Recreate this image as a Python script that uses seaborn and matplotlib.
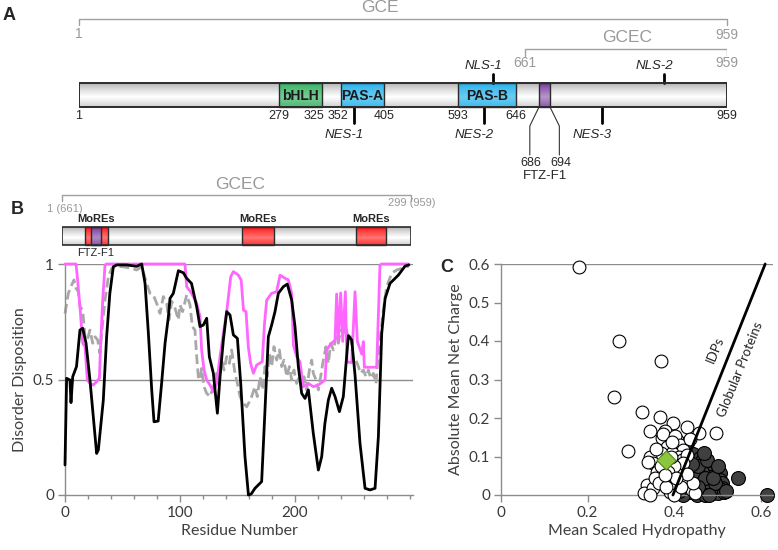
import numpy as np
import pandas as pd
import matplotlib.pyplot as plt
import seaborn as sns
from matplotlib.patches import Rectangle
from matplotlib.colors import to_rgb

# ---------------- panel A: GCE domain map (residue numbers)
gce_len = 959
gcec_start = 661
domains = [('bHLH', 279, 325, '#2cae5a'),
           ('PAS-A', 352, 405, '#1aaeea'),
           ('PAS-B', 593, 646, '#1aaeea')]
ftz_a = (686, 694)
nls_sites = [('NLS-1', 625), ('NLS-2', 865)]
nes_sites = [('NES-1', 368), ('NES-2', 617), ('NES-3', 772)]
edge_labels = [1, 279, 325, 352, 405, 593, 646, 959]

# the map is not drawn to scale; knots of the drawing's own scale
scale_res = [1, 279, 325, 352, 405, 593, 646, 686, 694, 959]
scale_pos = [0, 200, 243, 262, 305, 379, 437, 460, 471, 648]

# ---------------- panel B: GCEC (residues 1-299 = 661-959)
gcec_len = 299
mores = [(21, 40), (155, 182), (252, 278)]
ftz_b = (26, 34)

black_x = [0, 1.4, 4.3, 5.2, 6.7, 10, 13, 15.4, 18.3, 21.7, 24.6, 27.5, 29, 33.3, 36.2, 39, 42, 45,
           53.6, 62.3, 66.7, 69.6, 72.5, 75.4, 77.4, 81, 84, 87, 89.9, 91.3, 94.2, 98.6, 102.9, 105.8,
           110, 114.5, 117.4, 120.3, 123.2, 125.5, 129, 132.5, 134.8, 137.7, 140.6, 143.5, 146.4,
           149.9, 152.8, 156.5, 159.5, 162, 165.2, 171, 173.9, 176.8, 179.7, 182.6, 185.5, 189.9,
           193.3, 197.1, 200, 202.9, 205.8, 208.7, 211.6, 215.9, 220.3, 223.2, 226, 229, 231.9,
           234.8, 238.6, 242, 246.4, 249.3, 252.2, 256.5, 260.9, 265.2, 269.6, 272.5, 275.4, 278.3,
           282.6, 289.9, 295.7, 299]
black_y = [0.13, 0.505, 0.498, 0.40, 0.512, 0.556, 0.714, 0.722, 0.657, 0.498, 0.339, 0.18, 0.195,
           0.41, 0.685, 0.873, 0.988, 0.996, 0.996, 0.99, 1.0, 0.916, 0.70, 0.455, 0.317, 0.32,
           0.483, 0.657, 0.772, 0.851, 0.873, 0.971, 0.962, 0.938, 0.916, 0.815, 0.729, 0.736,
           0.765, 0.599, 0.527, 0.354, 0.512, 0.671, 0.794, 0.779, 0.693, 0.678, 0.483, 0.166,
           0.0, 0.005, 0.029, 0.058, 0.368, 0.685, 0.736, 0.794, 0.873, 0.902, 0.913, 0.844,
           0.729, 0.556, 0.440, 0.418, 0.455, 0.267, 0.108, 0.166, 0.31, 0.411, 0.462, 0.426,
           0.361, 0.426, 0.69, 0.671, 0.519, 0.224, 0.029, 0.022, 0.029, 0.253, 0.70, 0.85,
           0.916, 0.952, 0.991, 0.996]

pink_x = [0, 9.6, 10.7, 13, 15.4, 17.4, 19.4, 21.7, 24.6, 27.5, 29.9, 31, 32.8, 34.8, 36.2, 104.3,
          105.8, 110.1, 114.5, 117.4, 118.8, 120.9, 123.2, 126.1, 129, 131.9, 134.8, 137.7, 140.6,
          144.1, 146.4, 150.7, 153.2, 155.2, 157.4, 159.4, 161.4, 163.8, 166.7, 171.5, 173.5,
          175.4, 179.7, 184, 187, 191.3, 194.2, 197.1, 198.6, 201.4, 204.3, 207.2, 211.6, 215.9,
          220.3, 226.1, 227.5, 230.4, 234.8, 236.2, 237.7, 239.7, 241.5, 243.8, 245.2, 249.3,
          252.2, 254.2, 258, 259.4, 260.3, 271, 273.9, 275.4, 299]
pink_y = [1.0, 1.0, 0.945, 0.815, 0.657, 0.642, 0.498, 0.483, 0.476, 0.491, 0.505, 0.657, 0.844,
          0.996, 1.0, 1.0, 0.902, 0.873, 0.830, 0.772, 0.628, 0.541, 0.498, 0.476, 0.447, 0.483,
          0.599, 0.700, 0.794, 0.945, 0.967, 0.952, 0.93, 0.80, 0.794, 0.642, 0.570, 0.527,
          0.563, 0.577, 0.743, 0.844, 0.873, 0.880, 0.952, 0.938, 0.931, 0.873, 0.649, 0.599,
          0.577, 0.469, 0.483, 0.469, 0.476, 0.498, 0.628, 0.649, 0.671, 0.87, 0.67, 0.875,
          0.665, 0.88, 0.576, 0.573, 0.88, 0.665, 0.61, 0.664, 0.553, 0.553, 0.996, 1.0, 1.0]

gray_x = [0, 2.9, 5.8, 7.8, 9.6, 11.6, 13, 15.4, 17.4, 19.4, 21.7, 24.1, 26.1, 28.4, 30.4, 31.9,
          34.8, 37.7, 40.6, 43.5, 50.7, 58, 62.3, 66.7, 71, 73.9, 76.8, 79.7, 82.6, 85.5, 88.4,
          90.4, 92.8, 95.7, 98.6, 100, 102.3, 105.8, 108.7, 110.7, 113, 114.5, 115.9, 117.4,
          118.8, 120.9, 123.2, 126.1, 129, 131.9, 134.2, 136.2, 138.3, 140.6, 142.9, 144.9,
          147.8, 149.9, 152.2, 155.1, 158, 160.3, 162.3, 165.2, 167.2, 169.6, 171.9, 173.9,
          175.9, 177.7, 179.7, 181.7, 184, 186.4, 188.4, 190.4, 192.8, 195.1, 197.1, 199.1,
          201.4, 203.8, 205.8, 207.8, 210.1, 212.5, 214.5, 215.9, 218.3, 220.3, 222.3, 224.6,
          226.9, 229, 231, 233.3, 235.7, 237.7, 239.7, 242, 244.3, 246.4, 248.4, 250.7, 253,
          255.1, 257.1, 259.4, 261.7, 263.8, 265.8, 268.1, 270.4, 272.5, 274.5, 276.8, 279.7,
          284.1, 288.4, 292.8, 299]
gray_y = [0.786, 0.873, 0.909, 0.931, 0.895, 0.880, 0.815, 0.801, 0.685, 0.671, 0.714, 0.657,
          0.685, 0.671, 0.613, 0.70, 0.844, 0.945, 0.981, 0.99, 0.988, 0.981, 0.974, 0.988,
          0.916, 0.873, 0.866, 0.830, 0.786, 0.859, 0.830, 0.758, 0.838, 0.808, 0.758, 0.823,
          0.794, 0.866, 0.823, 0.729, 0.714, 0.599, 0.512, 0.498, 0.548, 0.469, 0.440, 0.426,
          0.469, 0.527, 0.483, 0.584, 0.541, 0.599, 0.570, 0.628, 0.527, 0.483, 0.426, 0.397,
          0.382, 0.404, 0.426, 0.469, 0.426, 0.512, 0.455, 0.556, 0.512, 0.613, 0.556, 0.642,
          0.584, 0.628, 0.556, 0.584, 0.512, 0.556, 0.498, 0.541, 0.483, 0.512, 0.469, 0.512,
          0.455, 0.541, 0.584, 0.527, 0.498, 0.455, 0.512, 0.584, 0.642, 0.570, 0.657, 0.628,
          0.685, 0.657, 0.714, 0.70, 0.729, 0.671, 0.685, 0.584, 0.584, 0.556, 0.527, 0.541,
          0.512, 0.541, 0.505, 0.527, 0.483, 0.613, 0.70, 0.801, 0.902, 0.960, 0.974, 0.981,
          0.991]

# ---------------- panel C: charge-hydropathy plot
idp_h = [0.181, 0.272, 0.369, 0.260, 0.325, 0.366, 0.294, 0.343, 0.398, 0.429, 0.456, 0.496,
         0.379, 0.371, 0.406, 0.387, 0.375, 0.402, 0.383, 0.413, 0.420, 0.395, 0.410, 0.370,
         0.360, 0.344, 0.352, 0.340, 0.361, 0.336, 0.330, 0.352, 0.344, 0.375, 0.390, 0.394,
         0.400, 0.410, 0.425, 0.440, 0.417, 0.429, 0.448, 0.444, 0.421, 0.400, 0.385, 0.370,
         0.355, 0.365, 0.380, 0.415, 0.430, 0.405, 0.395, 0.436, 0.392, 0.357, 0.378]
idp_r = [0.591, 0.401, 0.349, 0.255, 0.215, 0.203, 0.113, 0.167, 0.186, 0.177, 0.162, 0.162,
         0.165, 0.147, 0.143, 0.126, 0.158, 0.152, 0.125, 0.130, 0.118, 0.110, 0.100, 0.110,
         0.095, 0.100, 0.082, 0.087, 0.061, 0.026, 0.005, 0.017, 0.000, 0.039, 0.009, 0.017,
         0.000, 0.065, 0.039, 0.013, 0.091, 0.104, 0.004, 0.030, 0.082, 0.075, 0.060, 0.075,
         0.045, 0.030, 0.020, 0.020, 0.055, 0.045, 0.138, 0.145, 0.098, 0.120, 0.052]

glob_h = [0.429, 0.444, 0.460, 0.463, 0.479, 0.498, 0.479, 0.506, 0.483, 0.506, 0.510, 0.510,
          0.506, 0.548, 0.614, 0.471, 0.460, 0.487, 0.490, 0.452, 0.437, 0.421, 0.444, 0.460,
          0.475, 0.463, 0.444, 0.429, 0.413, 0.470, 0.500, 0.515, 0.495, 0.455, 0.470, 0.430,
          0.410, 0.475, 0.490, 0.520, 0.455, 0.480, 0.440, 0.420, 0.468, 0.500]
glob_r = [0.134, 0.106, 0.095, 0.089, 0.074, 0.061, 0.058, 0.058, 0.048, 0.039, 0.030, 0.017,
          0.015, 0.045, 0.000, 0.030, 0.013, 0.013, 0.004, 0.000, 0.009, 0.000, 0.039, 0.039,
          0.022, 0.061, 0.061, 0.065, 0.061, 0.000, 0.005, 0.008, 0.030, 0.075, 0.045, 0.025,
          0.010, 0.090, 0.045, 0.010, 0.020, 0.000, 0.080, 0.040, 0.110, 0.075]

gcec_hr = (0.381, 0.091)
boundary_h = [0.397, 0.610]
boundary_r = [0.0, 0.6]

# ---------------- style
sns.set_style('white')
plt.rcParams['font.family'] = ['Liberation Sans', 'DejaVu Sans']
W, H = 778, 550
fig = plt.figure(figsize=(W / 100, H / 100), dpi=100)


def box(px0, py0, px1, py1):
    # pixel box -> figure fraction rect
    return [px0 / W, 1 - py1 / H, (px1 - px0) / W, (py1 - py0) / H]


def grad_bar(ax, x0, x1, y0, y1, color, light, lw=1.0):
    base = np.array(to_rgb(color))
    n = int(round(y1 - y0))
    for k in range(n):
        t = (k + 0.5) / n
        f = max(0.0, 1 - abs(t - 0.58) / 0.58) ** 0.7
        c = base + (1 - base) * light * f
        ax.add_patch(Rectangle((x0, y0 + k * (y1 - y0) / n), x1 - x0, (y1 - y0) / n,
                               fc=c, lw=0, antialiased=False))
    ax.add_patch(Rectangle((x0, y0), x1 - x0, y1 - y0, fill=False, ec='#2b2b2b', lw=lw, zorder=3))


light_gray = '#999999'

# ================= panel A
ax_a = fig.add_axes(box(79, 0, 727, 185))
ax_a.set_xscale('function', functions=(lambda r: np.interp(r, scale_res, scale_pos),
                                       lambda p: np.interp(p, scale_pos, scale_res)))
ax_a.set_xlim(1, gce_len)
ax_a.set_ylim(185, 0)
ax_a.axis('off')

# brackets
ax_a.plot([1, 1, gce_len, gce_len], [25, 19, 19, 25], color='#a0a0a0', lw=1, clip_on=False)
ax_a.text(400, 8, 'GCE', ha='center', va='center', color=light_gray, fontsize=12.5)
ax_a.text(1, 34, '1', ha='center', va='center', color=light_gray, fontsize=10)
ax_a.text(gce_len, 35, str(gce_len), ha='center', va='center', color=light_gray, fontsize=10)
ax_a.plot([gcec_start, gcec_start, gce_len, gce_len], [56, 49, 49, 56], color='#a0a0a0', lw=1)
ax_a.text(809, 37, 'GCEC', ha='center', va='center', color=light_gray, fontsize=12.5)
ax_a.text(gcec_start, 63, str(gcec_start), ha='center', va='center', color=light_gray, fontsize=10)
ax_a.text(gce_len, 63, str(gce_len), ha='center', va='center', color=light_gray, fontsize=10)

grad_bar(ax_a, 1, gce_len, 83, 107, '#a9a9a9', 1.0, lw=1.4)
for name, s, e, col in domains:
    grad_bar(ax_a, s, e, 83, 107, col, 0.35)
    ax_a.text((s + e) / 2, 95.5, name, ha='center', va='center', fontsize=10,
              fontweight='bold', color='#1a1a1a', zorder=4)
grad_bar(ax_a, ftz_a[0], ftz_a[1], 83, 107, '#6a2a94', 0.5)

for r in edge_labels:
    if r == 325:
        ax_a.annotate(str(r), (r, 116), xytext=(2, 0), textcoords='offset points',
                      ha='right', va='center', fontsize=9)
    elif r == 352:
        ax_a.annotate(str(r), (r, 116), xytext=(-2, 0), textcoords='offset points',
                      ha='center', va='center', fontsize=9)
    else:
        ax_a.text(r, 116, str(r), ha='center', va='center', fontsize=9)

for name, r in nls_sites:
    ax_a.plot([r, r], [74, 83], color='black', lw=2)
    ax_a.annotate(name, (r, 66), xytext=(-7, 0), textcoords='offset points',
                  ha='center', va='center', fontsize=9.5, style='italic')
for name, r in nes_sites:
    ax_a.plot([r, r], [107, 123], color='black', lw=2)
    ax_a.annotate(name, (r, 135), xytext=(-7, 0), textcoords='offset points',
                  ha='center', va='center', fontsize=9.5, style='italic')

# FTZ-F1 call-out
ax_a.plot([ftz_a[0], ftz_a[0] - 16, ftz_a[0] - 16], [107, 126, 155], color='#333333', lw=0.8)
ax_a.plot([ftz_a[1], ftz_a[1] + 14, ftz_a[1] + 14], [107, 126, 155], color='#333333', lw=0.8)
ax_a.text(ftz_a[0] - 15, 163, str(ftz_a[0]), ha='center', va='center', fontsize=9)
ax_a.text(ftz_a[1] + 16, 163, str(ftz_a[1]), ha='center', va='center', fontsize=9)
ax_a.text(690, 176, 'FTZ-F1', ha='center', va='center', fontsize=9.5)

# ================= panel B schematic
ax_bs = fig.add_axes(box(62, 175, 411, 262))
ax_bs.set_xlim(1, gcec_len)
ax_bs.set_ylim(262, 175)
ax_bs.axis('off')
ax_bs.plot([1, 1, gcec_len, gcec_len], [201, 195, 195, 201], color='#a0a0a0', lw=1, clip_on=False)
ax_bs.text(153, 185, 'GCEC', ha='center', va='center', color=light_gray, fontsize=12.5)
ax_bs.text(3, 209, '1 (661)', ha='center', va='center', color=light_gray, fontsize=8)
ax_bs.text(300, 203, '299 (959)', ha='center', va='center', color=light_gray, fontsize=8)
grad_bar(ax_bs, 1, gcec_len, 227, 245, '#a9a9a9', 1.0, lw=1.2)
for s, e in mores:
    grad_bar(ax_bs, s, e, 227, 245, '#ff0000', 0.45)
    ax_bs.text((s + e) / 2, 219, 'MoREs', ha='center', va='center', fontsize=8, fontweight='bold')
grad_bar(ax_bs, ftz_b[0], ftz_b[1], 227, 245, '#6a2a94', 0.45)
ax_bs.text(30, 253, 'FTZ-F1', ha='center', va='center', fontsize=8)

# ================= panel B disorder profile
plt.rcParams['font.family'] = ['Lato', 'DejaVu Sans']
ax_b = fig.add_axes(box(65, 264, 413, 495))
ax_b.axhline(0.5, color='#8c8c8c', lw=1, zorder=1)
ax_b.axhline(1.0, color='#8c8c8c', lw=1, zorder=1)
sns.lineplot(x=gray_x, y=gray_y, ax=ax_b, color='#a8a8a8', lw=2, linestyle=(0, (3.5, 1.6)),
             estimator=None, sort=False, clip_on=False, zorder=2)
sns.lineplot(x=pink_x, y=pink_y, ax=ax_b, color='#ff66ff', lw=2, estimator=None, sort=False,
             clip_on=False, zorder=3)
sns.lineplot(x=black_x, y=black_y, ax=ax_b, color='black', lw=2, estimator=None, sort=False,
             clip_on=False, zorder=4)
ax_b.set_xlim(0, 302.6)
ax_b.set_ylim(0, 1)
ax_b.set_xticks([0, 100, 200])
ax_b.set_xticks(np.arange(0, 301, 20), minor=True)
ax_b.set_yticks([0, 0.5, 1])
ax_b.set_yticklabels(['0', '0.5', '1'])
ax_b.set_xlabel('Residue Number', fontsize=11.5, color='#404040', labelpad=3)
ax_b.set_ylabel('Disorder Disposition', fontsize=11.5, color='#404040', labelpad=4)

# ================= panel C
ax_c = fig.add_axes(box(501, 264, 773, 495))
ax_c.axhline(0.6, color='#8c8c8c', lw=1, zorder=1)
sns.scatterplot(x=glob_h, y=glob_r, ax=ax_c, s=100, color='#404040', edgecolor='black',
                linewidth=0.8, clip_on=False, zorder=2)
sns.scatterplot(x=idp_h, y=idp_r, ax=ax_c, s=85, color='white', edgecolor='black',
                linewidth=0.8, clip_on=False, zorder=3)
ax_c.plot(boundary_h, boundary_r, color='black', lw=2, zorder=4, clip_on=False)
sns.scatterplot(x=[gcec_hr[0]], y=[gcec_hr[1]], ax=ax_c, marker='D', s=95, color='#8cc63e',
                edgecolor='#55802a', linewidth=0.8, zorder=5, clip_on=False)
ax_c.text(0.494, 0.377, 'IDPs', rotation=68, rotation_mode='anchor', ha='center',
          va='center', fontsize=9.5, color='#222222')
ax_c.text(0.553, 0.325, 'Globular Proteins', rotation=68, rotation_mode='anchor',
          ha='center', va='center', fontsize=9.5, color='#222222')
ax_c.set_xlim(0, 0.628)
ax_c.set_ylim(0, 0.6)
ax_c.set_xticks([0, 0.2, 0.4, 0.6])
ax_c.set_xticklabels(['0', '0.2', '0.4', '0.6'])
ax_c.set_yticks(np.round(np.arange(0, 0.61, 0.1), 1))
ax_c.set_yticklabels(['0', '0.1', '0.2', '0.3', '0.4', '0.5', '0.6'])
ax_c.set_xlabel('Mean Scaled Hydropathy', fontsize=11.5, color='#404040', labelpad=3)
ax_c.set_ylabel('Absolute Mean Net Charge', fontsize=11.5, color='#404040', labelpad=4)

for ax in (ax_b, ax_c):
    sns.despine(ax=ax)
    for sp in ('left', 'bottom'):
        ax.spines[sp].set_color('#8c8c8c')
        ax.spines[sp].set_linewidth(1)
    ax.tick_params(axis='both', which='major', direction='out', length=5, width=1,
                   color='#8c8c8c', labelsize=11, labelcolor='#3a3a3a', pad=3,
                   bottom=True, left=True)
    ax.tick_params(axis='x', which='minor', direction='out', length=3, width=1,
                   color='#8c8c8c', bottom=True)

# panel letters
for letter, px, py in [('A', 9, 16), ('B', 17, 210), ('C', 447, 268)]:
    fig.text(px / W, 1 - py / H, letter, fontsize=13, fontweight='bold',
             family=['Liberation Sans', 'DejaVu Sans'], ha='center', va='center')

fig.savefig('out.png', dpi=100)
